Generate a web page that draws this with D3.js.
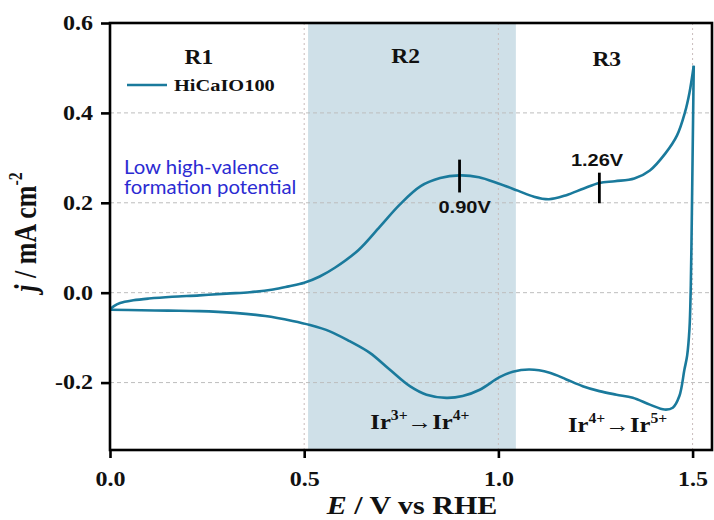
<!DOCTYPE html>
<html><head><meta charset="utf-8">
<script src="https://cdn.jsdelivr.net/npm/d3@7"></script>
<style>body{margin:0;background:#fff}svg{display:block}</style>
</head><body>
<svg id="c" width="714" height="520"></svg>
<script>
// ---- data ----
const E_anodic = [0, 0.01, 0.026, 0.06, 0.10, 0.16, 0.23, 0.30, 0.36, 0.42, 0.46, 0.50, 0.54, 0.58, 0.64, 0.695, 0.746, 0.80, 0.85, 0.90, 0.95, 1.00, 1.05, 1.09, 1.13, 1.175, 1.22, 1.26, 1.30, 1.35, 1.39, 1.43, 1.46, 1.48, 1.492, 1.503];
const j_anodic = [-0.038, -0.030, -0.023, -0.017, -0.013, -0.009, -0.006, -0.002, 0.001, 0.007, 0.014, 0.022, 0.036, 0.056, 0.095, 0.147, 0.196, 0.237, 0.255, 0.261, 0.257, 0.243, 0.227, 0.214, 0.208, 0.217, 0.232, 0.244, 0.248, 0.254, 0.272, 0.31, 0.35, 0.40, 0.445, 0.505];
const E_cathodic = [1.503, 1.500, 1.497, 1.495, 1.492, 1.486, 1.479, 1.466, 1.449, 1.428, 1.39, 1.346, 1.304, 1.26, 1.217, 1.175, 1.132, 1.08, 1.037, 1.003, 0.952, 0.908, 0.866, 0.815, 0.772, 0.72, 0.669, 0.617, 0.566, 0.515, 0.47, 0.40, 0.32, 0.23, 0.15, 0.08, 0.0];
const j_cathodic = [0.505, 0.30, 0.10, 0.0, -0.08, -0.14, -0.171, -0.23, -0.256, -0.260, -0.249, -0.234, -0.227, -0.219, -0.208, -0.193, -0.178, -0.171, -0.176, -0.188, -0.216, -0.230, -0.234, -0.227, -0.208, -0.171, -0.134, -0.108, -0.086, -0.072, -0.063, -0.052, -0.045, -0.041, -0.040, -0.039, -0.038];
const xTicks = [0, 0.5, 1.0, 1.5];
const yTicks = [-0.2, 0.0, 0.2, 0.4, 0.6];
const shadedBand = [0.51, 1.045];
const peakPotentials = [0.90, 1.26];
const peakLabels = ["0.90V", "1.26V"];
const regionLabels = ["R1", "R2", "R3"];
const seriesName = "HiCaIO100";

// ---- layout ----
const svg = d3.select("#c");
const L = 110, R = 712, T = 23, B = 450;
const x = d3.scaleLinear().domain([0, 1.55]).range([L, R]);
const y = d3.scaleLinear().domain([-0.35, 0.6]).range([B, T]);
const SX = 1.2;
const col = "#1a7a9c";
const serif = "'Liberation Serif', 'Times New Roman', serif";
const sans = "'Liberation Sans', Arial, sans-serif";
const fmt = d => d.toFixed(1);

function stretch(sel, sx) {
  sel.each(function () {
    const t = d3.select(this);
    const tx = +t.attr("x") || 0, ty = +t.attr("y") || 0;
    t.attr("transform", `translate(${tx},${ty}) scale(${sx},1) translate(${-tx},${-ty})`);
  });
}

// shaded band
svg.append("rect")
  .attr("x", x(shadedBand[0])).attr("y", T)
  .attr("width", x(shadedBand[1]) - x(shadedBand[0])).attr("height", B - T)
  .attr("fill", "#cfe0e8");

// grid
const g = svg.append("g");
g.selectAll(".gy").data(yTicks.filter(v => v < 0.6)).join("line")
  .attr("x1", L).attr("x2", R).attr("y1", d => y(d)).attr("y2", d => y(d))
  .attr("stroke", "#bdbdbd").attr("stroke-width", 1).attr("stroke-dasharray", "4,3");
g.selectAll(".gx").data(xTicks.filter(v => v > 0)).join("line")
  .attr("x1", d => x(d)).attr("x2", d => x(d)).attr("y1", T).attr("y2", B)
  .attr("stroke", "#c9bcbc").attr("stroke-width", 1).attr("stroke-dasharray", "2,3");

// curves
const line = d3.line().x(d => x(d[0])).y(d => y(d[1])).curve(d3.curveCatmullRom.alpha(0.5));
svg.append("path").datum(E_anodic.map((e, i) => [e, j_anodic[i]]))
  .attr("d", line).attr("fill", "none").attr("stroke", col).attr("stroke-width", 2.6);
svg.append("path").datum(E_cathodic.map((e, i) => [e, j_cathodic[i]]))
  .attr("d", line).attr("fill", "none").attr("stroke", col).attr("stroke-width", 2.6);

// frame
svg.append("rect").attr("x", L).attr("y", T).attr("width", R - L).attr("height", B - T)
  .attr("fill", "none").attr("stroke", "#000").attr("stroke-width", 2.6);

// axes
const xAxis = svg.append("g").attr("transform", `translate(0,${B})`)
  .call(d3.axisBottom(x).tickValues(xTicks).tickFormat(fmt).tickSize(8).tickPadding(10));
const yAxis = svg.append("g").attr("transform", `translate(${L},0)`)
  .call(d3.axisLeft(y).tickValues(yTicks).tickFormat(fmt).tickSize(9).tickPadding(8));
[xAxis, yAxis].forEach(a => {
  a.select(".domain").remove();
  a.selectAll(".tick line").attr("stroke", "#000").attr("stroke-width", 2.6);
  a.selectAll(".tick text").attr("font-family", serif).attr("font-weight", "bold")
    .attr("font-size", 20).attr("fill", "#111");
});
xAxis.selectAll(".tick text").attr("dy", "0.9em");
stretch(xAxis.selectAll(".tick text"), SX);
stretch(yAxis.selectAll(".tick text"), SX);

// axis titles
const xt = svg.append("text").attr("x", 412).attr("y", 514).attr("text-anchor", "middle")
  .attr("font-family", serif).attr("font-weight", "bold").attr("font-size", 25).attr("fill", "#111");
xt.append("tspan").attr("font-style", "italic").text("E");
xt.append("tspan").text(" / V vs RHE");
stretch(xt, SX);

const yt = svg.append("text")
  .attr("transform", `translate(36,232) rotate(-90) scale(1,${SX})`)
  .attr("text-anchor", "middle")
  .attr("font-family", serif).attr("font-weight", "bold").attr("font-size", 26).attr("fill", "#111");
yt.append("tspan").attr("font-style", "italic").text("j");
yt.append("tspan").text(" / mA cm");
yt.append("tspan").attr("font-size", 16).attr("dy", -12).text("-2");

// region labels
const regionPos = [[0.229, 0.509], [0.761, 0.512], [1.279, 0.504]];
const rl = svg.selectAll(".rl").data(regionLabels).join("text")
  .attr("x", (d, i) => x(regionPos[i][0])).attr("y", (d, i) => y(regionPos[i][1]))
  .attr("text-anchor", "middle").attr("font-family", serif).attr("font-weight", "bold")
  .attr("font-size", 21).attr("fill", "#111").text(d => d);
stretch(rl, 1.12);

// legend
svg.append("line").attr("x1", 127).attr("x2", 167).attr("y1", 85).attr("y2", 85)
  .attr("stroke", col).attr("stroke-width", 2.6);
const lt = svg.append("text").attr("x", 174).attr("y", 91)
  .attr("font-family", serif).attr("font-weight", "bold").attr("font-size", 17).attr("fill", "#111")
  .text(seriesName);
stretch(lt, SX);

// blue annotation
const bt = svg.append("g").attr("font-family", "Lato, 'Open Sans', sans-serif")
  .attr("font-size", 18.5).attr("fill", "#2b2bd2");
const b1 = bt.append("text").attr("x", x(0.036)).attr("y", 174).text("Low high-valence");
const b2 = bt.append("text").attr("x", x(0.036)).attr("y", 194).text("formation potential");
stretch(b1, 1.1); stretch(b2, 1.1);

// peak markers
const peakTicks = [[0.296, 0.223], [0.267, 0.199]];
svg.selectAll(".pk").data(peakPotentials).join("line")
  .attr("x1", d => x(d)).attr("x2", d => x(d))
  .attr("y1", (d, i) => y(peakTicks[i][0])).attr("y2", (d, i) => y(peakTicks[i][1]))
  .attr("stroke", "#000").attr("stroke-width", 2.8);
const peakLabelPos = [[0.913, 0.178], [1.254, 0.282]];
const pl = svg.selectAll(".pl").data(peakLabels).join("text")
  .attr("x", (d, i) => x(peakLabelPos[i][0])).attr("y", (d, i) => y(peakLabelPos[i][1]))
  .attr("text-anchor", "middle").attr("font-family", sans).attr("font-weight", "bold")
  .attr("font-size", 16).attr("fill", "#111").text(d => d);
stretch(pl, 1.25);

// Ir transitions
function irLabel(cx, cy, a, b) {
  const t = svg.append("text").attr("x", x(cx)).attr("y", y(cy)).attr("text-anchor", "middle")
    .attr("font-family", serif).attr("font-weight", "bold").attr("font-size", 22).attr("fill", "#111");
  t.append("tspan").text("Ir");
  t.append("tspan").attr("font-size", 14).attr("dy", -9).text(a);
  t.append("tspan").attr("dy", 9).text("\u2192Ir");
  t.append("tspan").attr("font-size", 14).attr("dy", -9).text(b);
  stretch(t, 1.12);
}
irLabel(0.798, -0.304, "3+", "4+");
irLabel(1.307, -0.311, "4+", "5+");
</script>
</body></html>
